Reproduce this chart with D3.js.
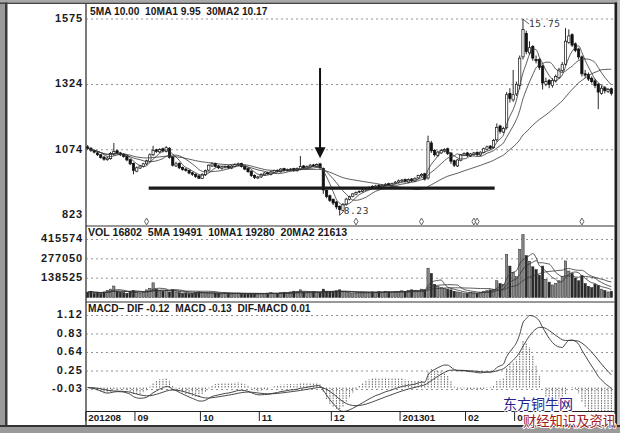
<!DOCTYPE html>
<html><head><meta charset="utf-8">
<script src="https://cdn.jsdelivr.net/npm/d3@7"></script>
<style>body{margin:0;background:#fff}svg{display:block}text{white-space:pre}</style>
</head><body><svg id="c" width="620" height="433"></svg>
<script>
// ---------- data ----------
const open = [10.85,10.80,10.70,10.62,10.55,10.46,10.36,10.40,10.58,10.70,10.62,10.56,10.48,10.36,10.22,9.92,10.04,10.10,10.20,10.30,
10.55,10.74,10.66,10.78,10.68,10.80,10.46,10.12,10.22,10.06,10.00,9.95,9.86,9.80,9.74,9.64,9.78,9.96,10.12,10.22,
10.12,10.02,10.06,10.12,10.04,10.10,10.16,10.22,10.12,10.02,9.92,9.76,9.66,9.70,9.78,9.86,9.80,9.88,9.96,9.90,
10.02,9.94,9.96,10.02,9.94,10.00,10.12,10.04,10.08,10.16,10.10,10.20,10.02,9.18,8.98,8.84,8.74,8.58,8.42,8.66,
8.84,8.96,9.04,9.12,9.14,9.20,9.24,9.34,9.30,9.38,9.28,9.36,9.44,9.38,9.46,9.50,9.54,9.60,9.50,9.62,
9.54,9.66,9.74,9.82,9.66,11.00,10.72,10.52,10.62,10.70,10.78,10.62,10.32,10.12,10.34,10.54,10.62,10.50,10.56,10.64,
10.54,10.64,10.76,10.88,10.82,11.12,11.65,11.42,11.60,12.90,12.65,12.88,13.20,14.30,15.20,14.45,14.70,14.20,14.20,13.95,
13.25,13.40,13.20,13.38,13.50,13.78,14.02,14.85,15.15,14.80,14.60,14.30,13.65,13.62,13.48,13.38,13.25,12.90,13.12,12.98,13.08];
const high = [10.92,10.84,10.74,10.66,10.58,10.50,10.48,10.66,11.00,10.74,10.66,10.60,10.52,10.40,10.25,10.10,10.16,10.24,10.36,10.60,
10.89,10.78,10.80,10.82,10.88,10.84,10.50,10.28,10.26,10.10,10.04,9.98,9.90,9.84,9.78,9.84,9.98,10.18,10.26,10.25,
10.16,10.12,10.14,10.15,10.16,10.22,10.25,10.24,10.14,10.04,9.95,9.80,9.74,9.84,9.88,9.90,9.94,9.98,9.98,10.04,
10.05,10.02,10.04,10.05,10.06,10.50,10.16,10.14,10.20,10.20,10.22,10.24,10.06,9.22,9.02,8.88,8.78,8.60,8.70,8.90,
8.98,9.08,9.14,9.18,9.24,9.28,9.34,9.38,9.40,9.42,9.42,9.46,9.48,9.48,9.54,9.60,9.62,9.64,9.64,9.66,
9.68,9.78,9.84,9.86,11.28,11.08,10.76,10.70,10.76,10.80,10.82,10.64,10.36,10.38,10.58,10.64,10.66,10.62,10.66,10.68,
10.68,10.82,10.90,10.92,11.15,11.75,11.70,11.62,12.95,13.10,13.80,13.35,14.35,15.75,15.30,14.90,14.75,14.35,14.25,14.00,
13.50,13.45,13.48,13.62,13.88,14.10,15.40,15.35,15.20,14.85,14.65,14.35,13.80,13.70,13.55,13.45,13.30,13.20,13.18,13.10,13.12];
const low = [10.74,10.66,10.60,10.50,10.40,10.32,10.32,10.36,10.52,10.58,10.50,10.44,10.30,10.15,9.80,9.88,10.00,10.06,10.16,10.26,
10.50,10.62,10.62,10.64,10.64,10.40,10.10,10.08,10.00,9.94,9.90,9.80,9.74,9.66,9.62,9.62,9.74,9.92,10.08,10.06,
10.00,9.98,10.02,10.00,10.00,10.06,10.12,10.06,9.96,9.86,9.70,9.62,9.62,9.66,9.74,9.78,9.76,9.84,9.88,9.86,
9.90,9.90,9.92,9.90,9.90,9.96,10.00,10.00,10.04,10.08,10.06,10.00,9.05,8.88,8.74,8.62,8.46,8.23,8.38,8.60,
8.80,8.92,9.00,9.08,9.10,9.16,9.20,9.28,9.26,9.26,9.24,9.32,9.36,9.34,9.42,9.46,9.50,9.48,9.46,9.50,
9.50,9.62,9.70,9.56,9.60,10.62,10.48,10.46,10.58,10.64,10.54,10.20,10.08,10.08,10.30,10.50,10.46,10.46,10.52,10.50,
10.50,10.60,10.72,10.74,10.78,11.05,11.36,11.38,11.52,12.55,12.58,12.80,13.05,14.20,14.40,14.38,14.15,14.05,13.80,13.05,
13.18,13.10,13.12,13.32,13.45,13.72,13.96,14.80,14.68,14.48,14.20,13.55,13.50,13.38,13.28,13.10,12.30,12.85,12.90,12.92,12.82];
const close = [10.80,10.72,10.65,10.55,10.45,10.38,10.42,10.60,10.68,10.62,10.55,10.48,10.35,10.20,9.95,10.05,10.12,10.20,10.32,10.55,
10.72,10.68,10.75,10.70,10.82,10.45,10.15,10.20,10.05,9.98,9.95,9.85,9.80,9.72,9.65,9.80,9.95,10.15,10.20,10.10,
10.05,10.08,10.10,10.05,10.12,10.18,10.20,10.10,10.00,9.90,9.75,9.68,9.70,9.80,9.85,9.82,9.90,9.95,9.92,10.00,
9.95,9.98,10.00,9.95,10.02,10.10,10.05,10.10,10.15,10.12,10.18,10.05,9.20,8.95,8.80,8.70,8.55,8.45,8.65,8.85,
8.95,9.05,9.10,9.15,9.20,9.25,9.30,9.32,9.35,9.30,9.38,9.42,9.40,9.45,9.50,9.55,9.58,9.52,9.60,9.55,
9.65,9.75,9.80,9.62,11.05,10.70,10.55,10.65,10.72,10.75,10.60,10.30,10.15,10.35,10.55,10.60,10.52,10.58,10.62,10.55,
10.65,10.78,10.85,10.80,11.10,11.60,11.45,11.55,12.85,12.70,12.85,13.25,14.25,15.35,14.50,14.65,14.25,14.15,13.90,13.30,
13.35,13.25,13.40,13.55,13.80,14.00,14.90,15.10,14.75,14.55,14.30,13.65,13.60,13.45,13.35,13.20,12.95,13.10,13.00,13.05,12.90];
const volume = [38000,45000,30000,35000,28000,40000,52000,60000,82000,45000,38000,35000,30000,42000,50000,
35000,30000,40000,55000,65000,105000,60000,48000,45000,50000,40000,55000,38000,35000,30000,32000,28000,30000,35000,40000,
38000,35000,30000,28000,32000,30000,25000,28000,30000,26000,28000,32000,30000,28000,25000,30000,27000,25000,
28000,30000,32000,35000,30000,28000,34000,38000,36000,40000,45000,42000,55000,40000,38000,35000,42000,38000,35000,60000,45000,40000,
42000,48000,55000,40000,38000,35000,32000,30000,35000,38000,33000,36000,40000,35000,42000,38000,45000,40000,38000,42000,45000,
48000,44000,50000,55000,52000,48000,60000,55000,210000,172000,95000,80000,70000,65000,60000,55000,45000,40000,35000,32000,
30000,35000,32000,30000,38000,45000,50000,55000,60000,120000,100000,95000,307000,225000,180000,
150000,345000,450000,300000,260000,220000,200000,160000,225000,130000,110000,90000,100000,120000,150000,262000,190000,172000,140000,120000,
157000,100000,80000,70000,95000,85000,60000,50000,40000,45000];

const priceTicks = [15.75, 13.24, 10.74, 8.23];
const priceTickLabels = ["1575", "1324", "1074", "823"];
const volTicks = [415574, 277050, 138525];
const macdTickLabels = ["1.12", "0.83", "0.64", "0.25", "-0.03"];
const monthStarts = [0, 15, 35, 53, 75, 96, 116, 131];
const monthLabels = ["201208", "09", "10", "11", "12", "201301", "02", "03"];
const markerBars = [18, 82, 102, 118, 119, 151];
const supportLine = [19, 124, 9.27];      // from bar, to bar, price
const arrowMark = [71, 13.87, 10.42];     // bar, top price, tip price
const priceHeader = "5MA 10.00  10MA1 9.95  30MA2 10.17";
const volHeader = "VOL 16802  5MA 19491  10MA1 19280  20MA2 21613";
const macdHeader = "MACD\u2013 DIF -0.12  MACD -0.13  DIF-MACD 0.01";

// ---------- derived indicators ----------
function sma(a, n){ return a.map((_, i) => d3.mean(a.slice(Math.max(0, i - n + 1), i + 1))); }
function ema(a, n){ const k = 2/(n+1); let e = a[0]; return a.map(v => (e = e + k*(v - e))); }
const ma5 = sma(close, 5), ma10 = sma(close, 10), ma30 = sma(close, 30);
const vma5 = sma(volume, 5), vma10 = sma(volume, 10), vma20 = sma(volume, 20);
const e12 = ema(close, 12), e26 = ema(close, 26);
const dif = e12.map((v, i) => v - e26[i]);
const dea = ema(dif, 9);
const hist = dif.map((v, i) => 2*(v - dea[i]));

// ---------- layout ----------
const svg = d3.select("#c");
const L = 86, R = 613;
const N = close.length;
const x = d3.scaleBand().domain(d3.range(N)).range([86.5, 612.5]).paddingInner(0.3);
const cx = i => x(i) + x.bandwidth()/2;
const yP = d3.scaleLinear().domain([8.23, 15.75]).range([215.3, 19]);
const yV = d3.scaleLinear().domain([0, 415574]).range([297.5, 239.5]);
const yM = d3.scaleLinear().domain([-0.03, 1.12]).range([389.5, 315.5]);
const yMt = d3.scalePoint().domain(macdTickLabels).range([315.5, 389.5]);

// frame
svg.append("rect").attr("x",0).attr("y",0).attr("width",620).attr("height",433).attr("fill","#fff");
svg.append("rect").attr("x",0).attr("y",0).attr("width",5).attr("height",433).attr("fill","#9a9a9a");
svg.append("rect").attr("x",5).attr("y",0).attr("width",2.5).attr("height",433).attr("fill","#3a3a3a");
svg.append("rect").attr("x",0).attr("y",0).attr("width",620).attr("height",2.5).attr("fill","#a8a8a8");
svg.append("rect").attr("x",0).attr("y",2.5).attr("width",617).attr("height",1.5).attr("fill","#444");
svg.append("rect").attr("x",614.5).attr("y",2.5).attr("width",3).attr("height",425).attr("fill","#1e1e1e");
svg.append("rect").attr("x",617.5).attr("y",0).attr("width",2.5).attr("height",433).attr("fill","#bdbdbd");
svg.append("rect").attr("x",0).attr("y",425).attr("width",620).attr("height",2).attr("fill","#333");
svg.append("rect").attr("x",0).attr("y",427).attr("width",620).attr("height",6).attr("fill","#9a9a9a");

const grid = {stroke:"#777", "stroke-width":0.8, "stroke-dasharray":"2,3"};
function hline(y, x1, x2, attrs){ const l = svg.append("line").attr("x1",x1).attr("x2",x2).attr("y1",y).attr("y2",y); Object.entries(attrs).forEach(([k,v])=>l.attr(k,v)); return l; }

// axis lines & separators
svg.append("line").attr("x1",L).attr("x2",L).attr("y1",4).attr("y2",425).attr("stroke","#222").attr("stroke-width",1.2);
hline(226, L, 614.5, {stroke:"#333","stroke-width":1.2});
hline(302, L, 614.5, {stroke:"#333","stroke-width":1.2});
hline(411.5, L, 614.5, {stroke:"#222","stroke-width":1.2});

const labelFont = {"font-family":"'Liberation Sans', Arial, sans-serif","font-weight":"bold","fill":"#1a1a1a"};
function txt(s, xx, yy, size, anchor, extra){ const t = svg.append("text").attr("x",xx).attr("y",yy).attr("font-size",size).attr("text-anchor",anchor||"start").text(s); Object.entries(labelFont).forEach(([k,v])=>t.attr(k,v)); if(extra) Object.entries(extra).forEach(([k,v])=>t.attr(k,v)); return t; }

// price grid + labels
priceTicks.forEach((p, i) => {
  if (i < 3) hline(yP(p), L, R, grid);
  txt(priceTickLabels[i], 83, yP(p), 11, "end", {"dominant-baseline":"middle","letter-spacing":"0.9"});
});
volTicks.forEach(v => {
  hline(yV(v), L, R, grid);
  txt(String(v), 83, yV(v), 11, "end", {"dominant-baseline":"middle","letter-spacing":"0.9"});
});
macdTickLabels.forEach(t => {
  hline(yMt(t), L, R, grid);
  txt(t, 83, yMt(t), 11, "end", {"dominant-baseline":"middle","letter-spacing":"1.2"});
});

// headers
txt(priceHeader, 90, 15, 10.2, "start");
txt(volHeader, 88, 236, 10.6, "start");
txt(macdHeader, 88, 312, 10.2, "start");

// month ticks
monthStarts.forEach((b, i) => {
  const xx = x(b) - x.step()*0.2;
  svg.append("line").attr("x1",xx).attr("x2",xx).attr("y1",411.5).attr("y2",421).attr("stroke","#222").attr("stroke-width",1);
  txt(monthLabels[i], xx + 2.5, 421, 9.8, "start");
});

// clip paths
const defs = svg.append("defs");
defs.append("clipPath").attr("id","cp").append("rect").attr("x",L).attr("y",5).attr("width",R-L).attr("height",220);
defs.append("clipPath").attr("id","cv").append("rect").attr("x",L).attr("y",227).attr("width",R-L).attr("height",74);
defs.append("clipPath").attr("id","cm").append("rect").attr("x",L).attr("y",303).attr("width",R-L).attr("height",108);

// ---------- price panel ----------
const gp = svg.append("g").attr("clip-path","url(#cp)");
const idx = d3.range(N);
gp.selectAll("line.w").data(idx).join("line").attr("class","w")
  .attr("x1", cx).attr("x2", cx).attr("y1", i => yP(high[i])).attr("y2", i => yP(low[i]))
  .attr("stroke","#111").attr("stroke-width",0.9);
gp.selectAll("rect.b").data(idx).join("rect").attr("class","b")
  .attr("x", i => x(i)).attr("width", x.bandwidth())
  .attr("y", i => yP(Math.max(open[i], close[i])))
  .attr("height", i => Math.max(0.8, Math.abs(yP(open[i]) - yP(close[i]))))
  .attr("fill", i => close[i] >= open[i] ? "#fff" : "#111")
  .attr("stroke","#111").attr("stroke-width",0.7);
const lineP = d3.line().x((d,i) => cx(i)).y(d => yP(d)).curve(d3.curveMonotoneX);
[ma5, ma10, ma30].forEach(m => gp.append("path").attr("d", lineP(m)).attr("fill","none").attr("stroke","#333").attr("stroke-width",0.8));

// support line & arrow
svg.append("line").attr("x1", x(supportLine[0])).attr("x2", x(supportLine[1])+x.bandwidth())
  .attr("y1", yP(supportLine[2])).attr("y2", yP(supportLine[2])).attr("stroke","#1a1a1a").attr("stroke-width",3.4);
const ax = cx(arrowMark[0]);
svg.append("line").attr("x1",ax).attr("x2",ax).attr("y1",yP(arrowMark[1])).attr("y2",yP(arrowMark[2])-8).attr("stroke","#111").attr("stroke-width",2);
svg.append("path").attr("d", `M${ax-5.5},${yP(arrowMark[2])-11}L${ax+5.5},${yP(arrowMark[2])-11}L${ax},${yP(arrowMark[2])}Z`).attr("fill","#111");

// extreme labels
const hiI = d3.maxIndex(high), loI = d3.minIndex(low);
svg.append("line").attr("x1",cx(hiI)).attr("y1",yP(high[hiI])).attr("x2",cx(hiI)+6).attr("y2",yP(high[hiI])+5).attr("stroke","#333").attr("stroke-width",0.8);
svg.append("text").attr("x",cx(hiI)+6).attr("y",yP(high[hiI])+8).attr("font-family","'DejaVu Sans Mono', monospace").attr("font-size",9.5).attr("letter-spacing","0.6").attr("fill","#333").text(high[hiI].toFixed(2));
svg.append("line").attr("x1",cx(loI)).attr("y1",yP(low[loI])).attr("x2",cx(loI)+4).attr("y2",yP(low[loI])-4).attr("stroke","#333").attr("stroke-width",0.8);
svg.append("text").attr("x",cx(loI)+4).attr("y",yP(low[loI])-1.5).attr("font-family","'DejaVu Sans Mono', monospace").attr("font-size",9.5).attr("letter-spacing","0.6").attr("fill","#333").text(low[loI].toFixed(2));

// diamonds
svg.selectAll("path.dm").data(markerBars).join("path").attr("class","dm")
  .attr("transform", b => `translate(${cx(b)},221.5)`)
  .attr("d", d3.symbol(d3.symbolDiamond, 14))
  .attr("fill","#fff").attr("stroke","#555").attr("stroke-width",0.9);

// ---------- volume panel ----------
const gv = svg.append("g").attr("clip-path","url(#cv)");
gv.selectAll("rect.v").data(idx).join("rect").attr("class","v")
  .attr("x", i => x(i)).attr("width", x.bandwidth())
  .attr("y", i => yV(volume[i])).attr("height", i => yV(0) - yV(volume[i]))
  .attr("fill", i => close[i] >= open[i] ? "#8a8a8a" : "#2a2a2a").attr("stroke","#222").attr("stroke-width",0.5);
const lineV = d3.line().x((d,i) => cx(i)).y(d => yV(d)).curve(d3.curveMonotoneX);
[vma5, vma10, vma20].forEach(m => gv.append("path").attr("d", lineV(m)).attr("fill","none").attr("stroke","#333").attr("stroke-width",0.8));

// ---------- MACD panel ----------
const gm = svg.append("g").attr("clip-path","url(#cm)");
gm.selectAll("line.h").data(idx).join("line").attr("class","h")
  .attr("x1", cx).attr("x2", cx).attr("y1", yM(0)).attr("y2", i => yM(hist[i]))
  .attr("stroke","#555").attr("stroke-width",0.9).attr("stroke-dasharray","1.5,1");
const lineM = d3.line().x((d,i) => cx(i)).y(d => yM(d)).curve(d3.curveMonotoneX);
[dif, dea].forEach(m => gm.append("path").attr("d", lineM(m)).attr("fill","none").attr("stroke","#333").attr("stroke-width",0.9));

// ---------- watermark ----------
svg.append("text").attr("x",503).attr("y",408.5).attr("font-family","'Noto Sans CJK SC', sans-serif").attr("font-size",14)
  .attr("fill","#23238f").attr("stroke","#fff").attr("stroke-width",2).attr("paint-order","stroke").text("东方铜牛网");
svg.append("text").attr("x",523).attr("y",425.5).attr("font-family","'Noto Sans CJK SC', sans-serif").attr("font-size",13.3)
  .attr("fill","#9e1a1a").attr("stroke","#fff").attr("stroke-width",2).attr("paint-order","stroke").text("财经知识及资讯");
</script></body></html>
